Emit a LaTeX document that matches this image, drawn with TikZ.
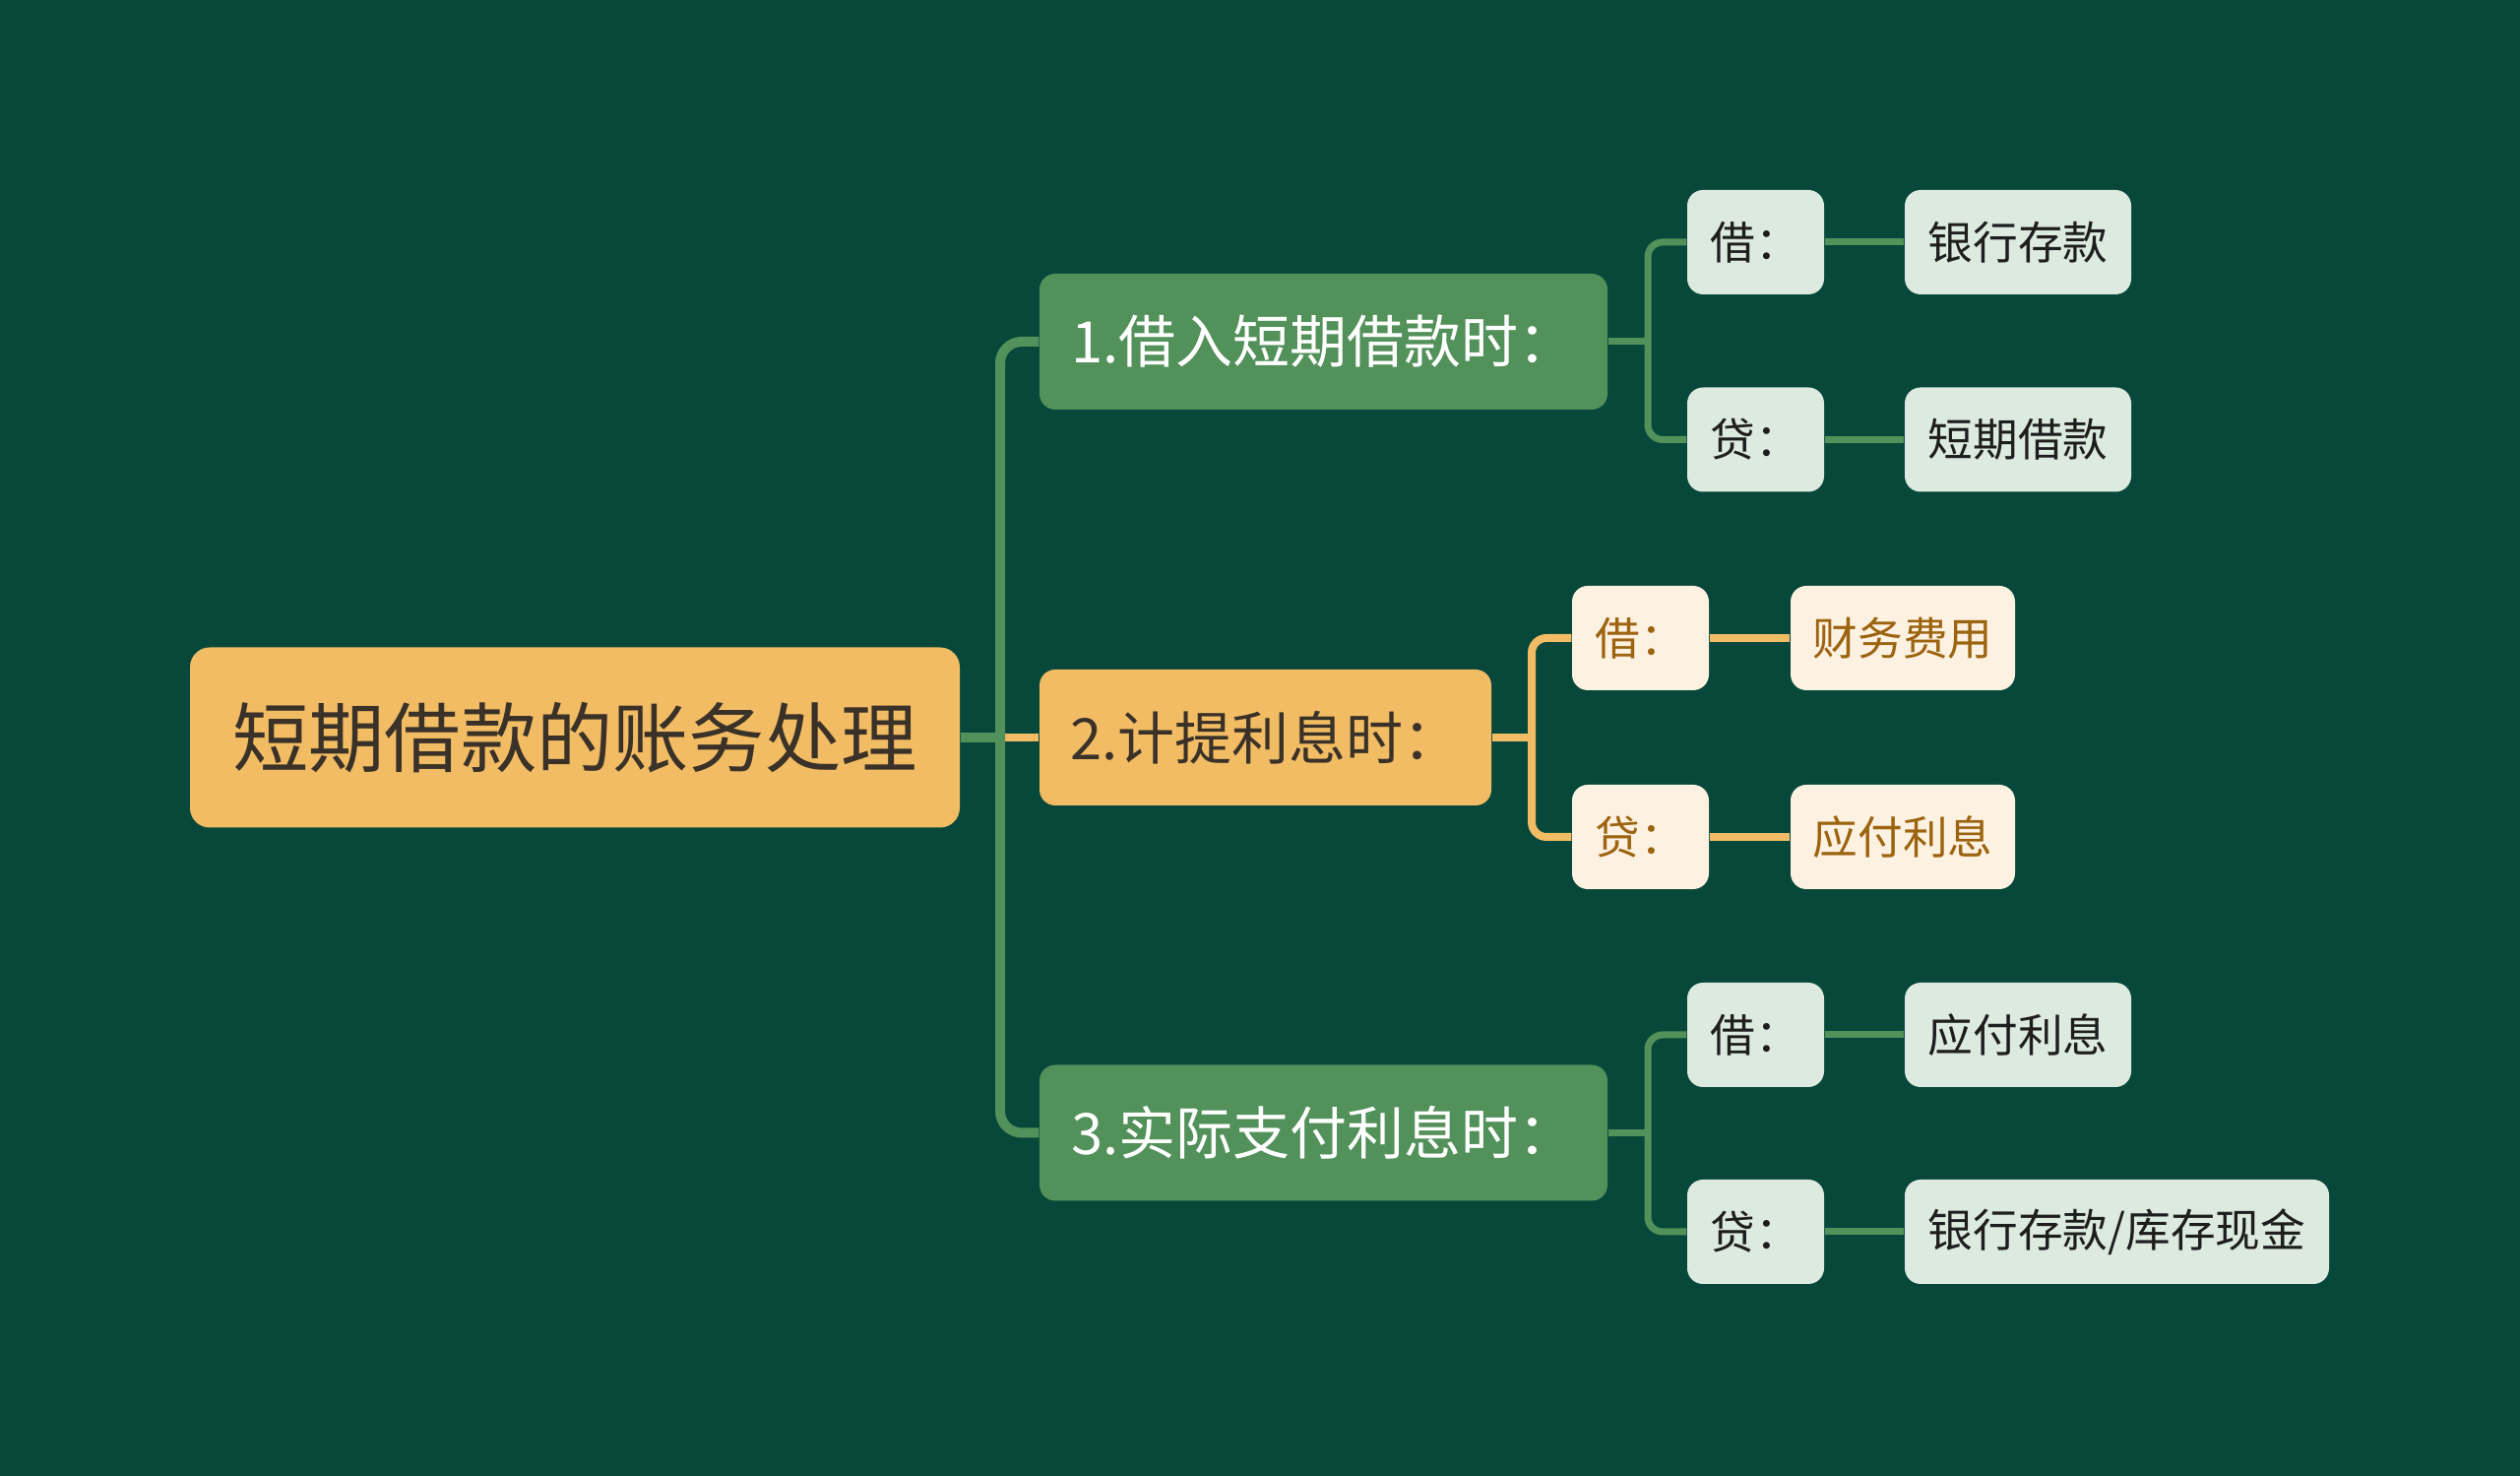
\documentclass[tikz,border=0pt]{standalone}
\usepackage{fontspec}
\setmainfont{Noto Sans CJK SC}
\usepackage{xcolor}
\usetikzlibrary{positioning}

\definecolor{bgdark}{HTML}{07483A}
\definecolor{rootorange}{HTML}{F1BC63}
\definecolor{roottext}{HTML}{3A3128}
\definecolor{branchgreen}{HTML}{53915B}
\definecolor{leafgreen}{HTML}{DCEADF}
\definecolor{leaftext}{HTML}{1E1E1E}
\definecolor{leafcream}{HTML}{FDF1E2}
\definecolor{creamtext}{HTML}{9C640F}

\begin{document}
\begin{tikzpicture}[
    rootbox/.style={fill=rootorange, text=roottext, rounded corners=0.2cm, inner sep=0pt,
        minimum width=7.82cm, minimum height=1.83cm, font=\fontsize{22}{26}\selectfont},
    branchbox/.style={fill=branchgreen, text=white, rounded corners=0.16cm, inner sep=0pt,
        minimum height=1.38cm, font=\fontsize{16.5}{20}\selectfont},
    accruebox/.style={branchbox, fill=rootorange, text=roottext},
    leafbox/.style={fill=leafgreen, text=leaftext, rounded corners=0.16cm, inner sep=0pt,
        minimum height=1.06cm, font=\fontsize{13}{16}\selectfont},
    creambox/.style={leafbox, fill=leafcream, text=creamtext},
    trunkline/.style={draw=branchgreen, line width=0.1cm},
    twigline/.style={draw=branchgreen, line width=0.07cm},
    orangeline/.style={draw=rootorange, line width=0.08cm},
]
    % Background and frame
    \fill[bgdark] (0,0) rectangle (25.6,14.99);
    \useasboundingbox (0,0) rectangle (25.6,14.99);

    % Root topic
    \node[rootbox] (root) at (5.84,7.50) {短期借款的账务处理};

    % Main branches
    \node[branchbox, minimum width=5.77cm] (borrow) at (13.445,11.52) {1.借入短期借款时：};
    \node[accruebox, minimum width=4.59cm] (accrue) at (12.855,7.50) {2.计提利息时：};
    \node[branchbox, minimum width=5.77cm] (pay) at (13.445,3.485) {3.实际支付利息时：};

    % Entries when borrowing
    \node[leafbox, minimum width=1.39cm] (borrowDr) at (17.835,12.53) {借：};
    \node[leafbox, minimum width=2.30cm] (borrowDrAcc) at (20.50,12.53) {银行存款};
    \node[leafbox, minimum width=1.39cm] (borrowCr) at (17.835,10.525) {贷：};
    \node[leafbox, minimum width=2.30cm] (borrowCrAcc) at (20.50,10.525) {短期借款};

    % Entries when accruing interest
    \node[creambox, minimum width=1.39cm] (accrueDr) at (16.665,8.51) {借：};
    \node[creambox, minimum width=2.28cm] (accrueDrAcc) at (19.33,8.51) {财务费用};
    \node[creambox, minimum width=1.39cm] (accrueCr) at (16.665,6.49) {贷：};
    \node[creambox, minimum width=2.28cm] (accrueCrAcc) at (19.33,6.49) {应付利息};

    % Entries when paying interest
    \node[leafbox, minimum width=1.39cm] (payDr) at (17.835,4.48) {借：};
    \node[leafbox, minimum width=2.30cm] (payDrAcc) at (20.50,4.48) {应付利息};
    \node[leafbox, minimum width=1.39cm] (payCr) at (17.835,2.48) {贷：};
    \node[leafbox, minimum width=4.31cm] (payCrAcc) at (21.505,2.48) {银行存款/库存现金};

    % Junction points
    \coordinate (hub) at (10.16,7.50);
    \coordinate (borrowJoint) at (16.74,11.52);
    \coordinate (accrueJoint) at (15.56,7.50);
    \coordinate (payJoint) at (16.74,3.485);

    % Root to branches
    \draw[orangeline] (hub) -- (accrue.west);
    \draw[trunkline, rounded corners=0.22cm] (borrow.west) -| (hub) |- (pay.west);
    \draw[trunkline] (root.east) -- (hub);

    % Branches to entries
    \draw[twigline] (borrow.east) -- (borrowJoint);
    \draw[twigline, rounded corners=0.15cm] (borrowDr.west) -| (borrowJoint) |- (borrowCr.west);
    \draw[orangeline] (accrue.east) -- (accrueJoint);
    \draw[orangeline, rounded corners=0.15cm] (accrueDr.west) -| (accrueJoint) |- (accrueCr.west);
    \draw[twigline] (pay.east) -- (payJoint);
    \draw[twigline, rounded corners=0.15cm] (payDr.west) -| (payJoint) |- (payCr.west);

    % Entries to accounts
    \draw[twigline] (borrowDr.east) -- (borrowDrAcc.west);
    \draw[twigline] (borrowCr.east) -- (borrowCrAcc.west);
    \draw[orangeline] (accrueDr.east) -- (accrueDrAcc.west);
    \draw[orangeline] (accrueCr.east) -- (accrueCrAcc.west);
    \draw[twigline] (payDr.east) -- (payDrAcc.west);
    \draw[twigline] (payCr.east) -- (payCrAcc.west);
\end{tikzpicture}
\end{document}
